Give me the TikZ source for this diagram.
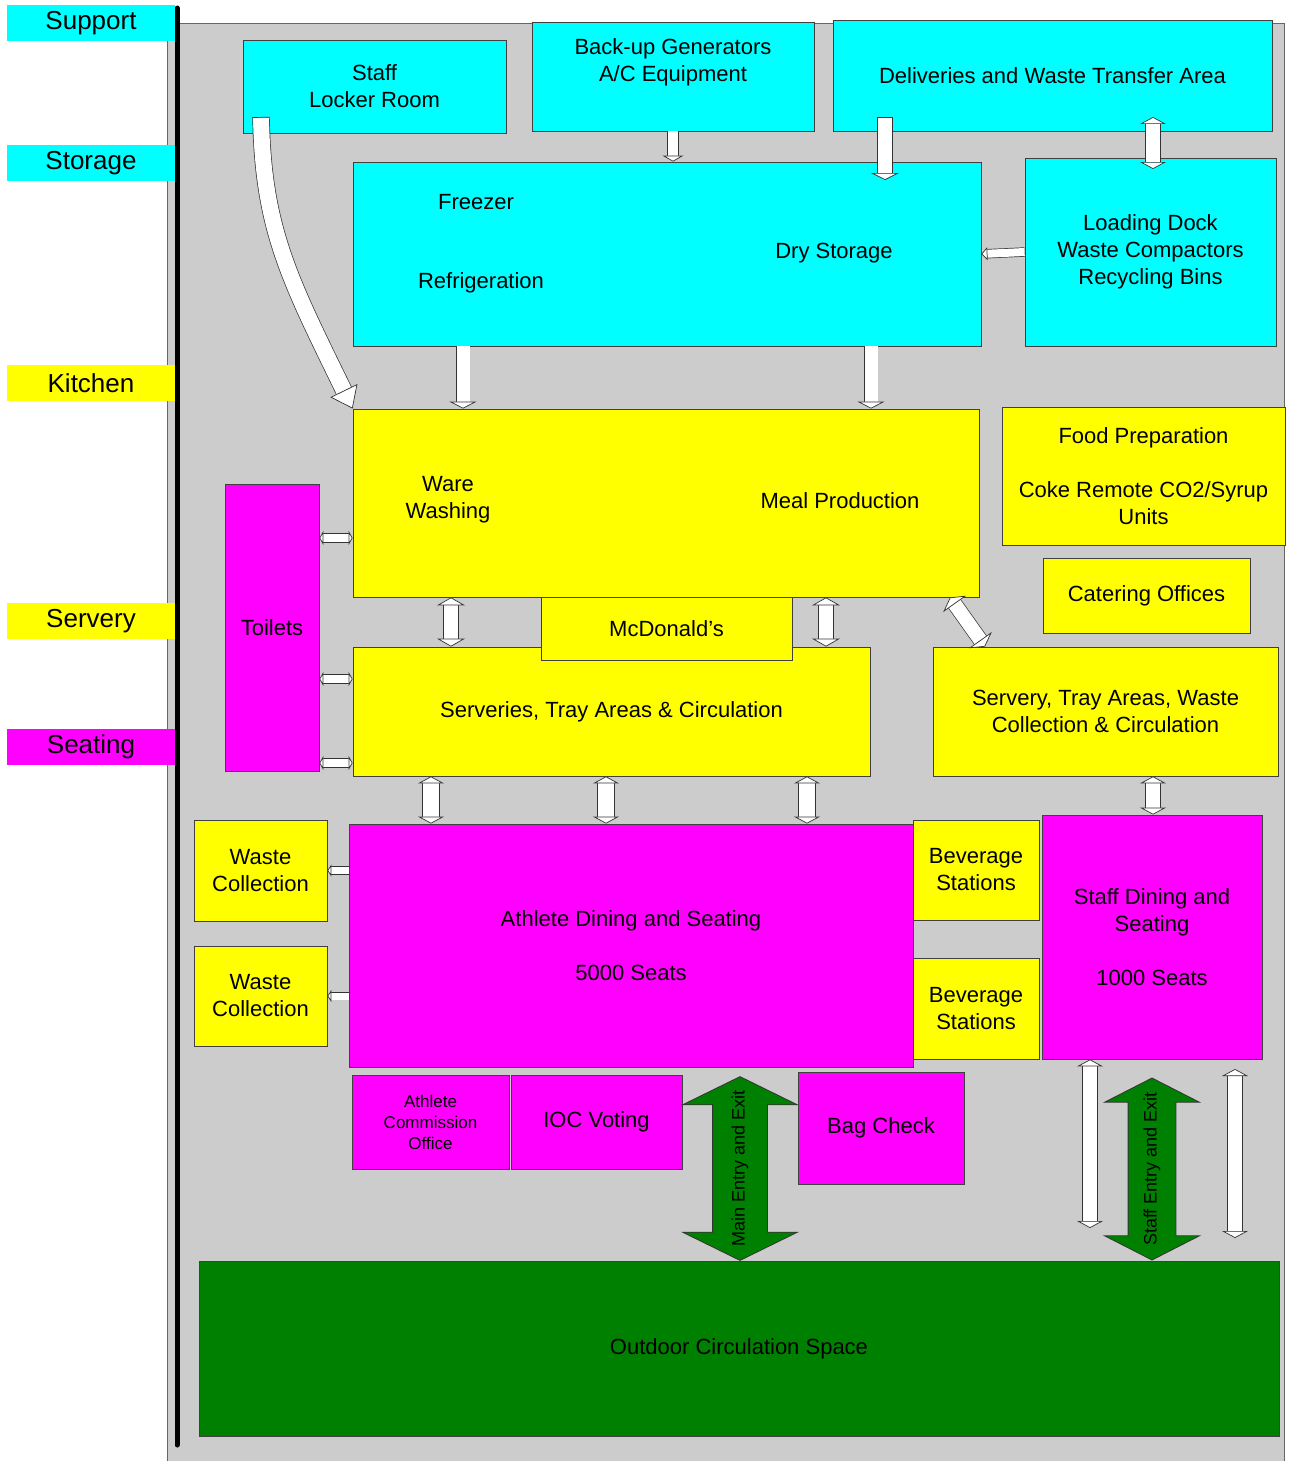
\documentclass[tikz,border=0pt]{standalone}
\usepackage{fontspec}
\setmainfont{Liberation Sans}
\usetikzlibrary{arrows.meta}
\usetikzlibrary{shapes.arrows}
\definecolor{cyanbox}{RGB}{0,255,255}
\definecolor{yellowbox}{RGB}{255,255,0}
\definecolor{pinkbox}{RGB}{255,0,255}
\definecolor{greenbox}{RGB}{0,128,0}
\definecolor{bggray}{RGB}{204,204,204}
\tikzstyle{room}=[draw=black!75, line width=0.8pt, inner sep=0pt, align=center, font=\fontsize{22}{27}\selectfont]
\tikzstyle{tag}=[inner sep=0pt, align=center, font=\fontsize{22}{27}\selectfont]
\tikzstyle{side}=[inner sep=0pt, minimum width=168pt, minimum height=36pt, font=\fontsize{26}{30}\selectfont]
\tikzstyle{gate}=[double arrow, draw=black!80, fill=greenbox, line width=0.8pt, double arrow head indent=0pt, text height=13pt, text depth=4pt, inner xsep=0pt, font=\fontsize{18}{22}\selectfont, rotate=90]
\tikzset{
  pass/.style n args={3}{draw=black!80, line width=0.7pt, double=white, double distance=#1,
    >={Triangle[fill=white, line width=0.7pt, width=#2, length=#3]}}
}

\begin{document}
\begin{tikzpicture}[x=1pt, y=-1pt]
    \useasboundingbox (0,0) rectangle (1292,1461);
    \draw[fill=bggray, draw=black!60, line width=0.8pt] (167,23) rectangle (1284,1480);
    \draw[line width=5pt, line cap=round] (177,8) -- (177,1445);

    % level labels
    \node[side, fill=cyanbox] (lsupport) at (91,23.5) {Support};
    \node[side, fill=cyanbox] (lstorage) at (91,163) {Storage};
    \node[side, fill=yellowbox] (lkitchen) at (91,383) {Kitchen};
    \node[side, fill=yellowbox] (lservery) at (91,621) {Servery};
    \node[side, fill=pinkbox] (lseating) at (91,747) {Seating};

    % support and storage
    \node[room, fill=cyanbox, minimum width=263pt, minimum height=93pt] (locker) at (374.5,86.5) {Staff\\Locker Room};
    \node[room, fill=cyanbox, minimum width=282pt, minimum height=109pt] (backup) at (673,76.5) {};
    \node[tag] (backuptxt) at (673,62.5) {Back-up Generators\\A/C Equipment};
    \node[room, fill=cyanbox, minimum width=439pt, minimum height=111pt] (deliv) at (1052.5,75.5) {Deliveries and Waste Transfer Area};
    \node[room, fill=cyanbox, minimum width=628pt, minimum height=184pt] (store) at (667,254) {};
    \node[tag] (freezer) at (476,202) {Freezer};
    \node[tag] (fridge) at (481,283) {Refrigeration};
    \node[tag] (dry) at (834,253) {Dry Storage};
    \node[room, fill=cyanbox, minimum width=251pt, minimum height=188pt] (dock) at (1150.5,252) {Loading Dock\\Waste Compactors\\Recycling Bins};

    % kitchen and servery
    \node[room, fill=yellowbox, minimum width=626pt, minimum height=188pt] (kitchen) at (666,503) {};
    \node[tag] (ware) at (448,500) {Ware\\Washing};
    \node[tag] (meal) at (840,501) {Meal Production};
    \node[room, fill=yellowbox, minimum width=283pt, minimum height=138pt] (prep) at (1143.5,476) {Food Preparation\\[27pt]Coke Remote CO2/Syrup\\Units};
    \node[room, fill=yellowbox, minimum width=207pt, minimum height=75pt] (cater) at (1146.5,595.5) {Catering Offices};
    \node[room, fill=yellowbox, minimum width=517pt, minimum height=129pt] (serv) at (611.5,711.5) {Serveries, Tray Areas \& Circulation};
    \node[room, fill=yellowbox, minimum width=251pt, minimum height=63pt] (mcd) at (666.5,628.5) {McDonald’s};
    \node[room, fill=yellowbox, minimum width=345pt, minimum height=129pt] (servr) at (1105.5,711.5) {Servery, Tray Areas, Waste\\Collection \& Circulation};
    \node[room, fill=pinkbox, minimum width=94pt, minimum height=287pt] (toilets) at (272,627.5) {Toilets};

    % seating
    \node[room, fill=yellowbox, minimum width=133pt, minimum height=101pt] (waste1) at (260.5,870.5) {Waste\\Collection};
    \node[room, fill=yellowbox, minimum width=133pt, minimum height=100pt] (waste2) at (260.5,996) {Waste\\Collection};
    \node[room, fill=pinkbox, minimum width=564pt, minimum height=243pt] (athlete) at (631,945.5) {Athlete Dining and Seating\\[27pt]5000 Seats};
    \node[room, fill=yellowbox, minimum width=126pt, minimum height=100pt] (bev1) at (976,870) {Beverage\\Stations};
    \node[room, fill=yellowbox, minimum width=126pt, minimum height=101pt] (bev2) at (976,1008.5) {Beverage\\Stations};
    \node[room, fill=pinkbox, minimum width=220pt, minimum height=244pt] (staffdin) at (1152,937) {Staff Dining and\\Seating\\[27pt]1000 Seats};
    \node[room, fill=pinkbox, minimum width=157pt, minimum height=94pt, font=\fontsize{17}{21}\selectfont] (aco) at (430.5,1122) {Athlete\\Commission\\Office};
    \node[room, fill=pinkbox, minimum width=171pt, minimum height=94pt] (ioc) at (596.5,1122) {IOC Voting};
    \node[room, fill=pinkbox, minimum width=166pt, minimum height=112pt] (bag) at (881,1128) {Bag Check};
    \node[room, fill=greenbox, minimum width=1080pt, minimum height=175pt] (outdoor) at (739,1348.5) {Outdoor Circulation Space};
    \node[gate, minimum height=183pt, inner ysep=18.5pt, double arrow head extend=30pt, double arrow tip angle=127.7] (mainentry) at (740,1168.5) {Main Entry and Exit};
    \node[gate, minimum height=182pt, inner ysep=15pt, double arrow head extend=23.5pt, double arrow tip angle=125.9] (staffentry) at (1152,1169) {Staff Entry and Exit};

    % flows
    \coordinate (lockA) at (261,117);
    \coordinate (delivA) at (885,117);
    \coordinate (delivB) at (885,180);
    \coordinate (dockA) at (1153,117);
    \coordinate (dockB) at (1153,169);
    \coordinate (staffA) at (1090,1228);
    \coordinate (staffB) at (1235,1069);
    \coordinate (staffC) at (1235,1238);
    \draw[pass={16pt}{30pt}{20pt}, {Bar[width=17.4pt, line width=0.7pt]}->] (lockA) .. controls (263,230) and (290,280) .. (kitchen.north west);
    \draw[pass={10pt}{21pt}{6pt}, ->] (backup.south) -- (backup.south |- store.north);
    \draw[pass={14pt}{28pt}{7pt}, {Bar[width=15.4pt, line width=0.7pt]}->] (delivA) -- (delivB);
    \draw[pass={14pt}{26pt}{7pt}, <->] (dockA) -- (dockB);
    \draw[pass={8pt}{13pt}{6pt}, ->] (dock.west) -- (store.east);
    \draw[pass={13pt}{27pt}{7pt}, ->] (463,0 |- store.south) -- (463,0 |- kitchen.north);
    \draw[pass={13pt}{27pt}{7pt}, ->] (871,0 |- store.south) -- (871,0 |- kitchen.north);
    \draw[pass={14pt}{28pt}{8pt}, <->] (451,0 |- kitchen.south) -- (451,0 |- serv.north);
    \draw[pass={14pt}{28pt}{8pt}, <->] (826,0 |- kitchen.south) -- (826,0 |- serv.north);
    \draw[pass={14pt}{28pt}{8pt}, <->] (950,0 |- kitchen.south) -- (985,0 |- servr.north);
    \draw[pass={8pt}{14pt}{4pt}, <->] (toilets.east |- 0,538) -- (kitchen.west |- 0,538);
    \draw[pass={8pt}{14pt}{4pt}, <->] (toilets.east |- 0,679) -- (serv.west |- 0,679);
    \draw[pass={8pt}{14pt}{4pt}, <->] (toilets.east |- 0,763) -- (serv.west |- 0,763);
    \draw[pass={16pt}{26pt}{7pt}, <->] (431,0 |- serv.south) -- (431,0 |- athlete.north);
    \draw[pass={16pt}{26pt}{7pt}, <->] (606,0 |- serv.south) -- (606,0 |- athlete.north);
    \draw[pass={16pt}{26pt}{7pt}, <->] (807,0 |- serv.south) -- (807,0 |- athlete.north);
    \draw[pass={14pt}{26pt}{7pt}, <->] (1153,0 |- servr.south) -- (1153,0 |- staffdin.north);
    \draw[pass={7pt}{12pt}{4pt}, ->] (athlete.west |- waste1.east) -- (waste1.east);
    \draw[pass={7pt}{12pt}{4pt}, ->] (athlete.west |- waste2.east) -- (waste2.east);
    \draw[pass={14pt}{26pt}{7pt}, <->] (1090,0 |- staffdin.south) -- (staffA);
    \draw[pass={14pt}{26pt}{7pt}, <->] (staffB) -- (staffC);
\end{tikzpicture}
\end{document}
